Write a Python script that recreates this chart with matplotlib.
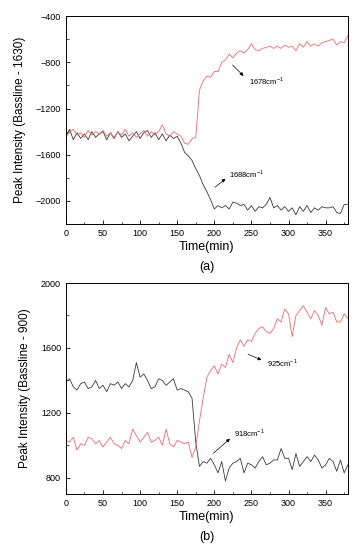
import numpy as np
import matplotlib
matplotlib.use("Agg")
import matplotlib.pyplot as plt
from matplotlib.ticker import MultipleLocator

plt.rcParams['font.family'] = ['Liberation Sans', 'DejaVu Sans']
plt.rcParams['mathtext.fontset'] = 'custom'
plt.rcParams['mathtext.rm'] = 'Liberation Sans'

# time axis, one reading every 5 min
t = np.arange(0, 381, 5)

# panel (a): baseline 1630
peak_1688 = [-1440, -1380, -1470, -1410, -1460, -1420, -1470, -1400, -1450, -1420,
             -1400, -1470, -1410, -1460, -1400, -1450, -1420, -1480, -1440, -1400,
             -1460, -1410, -1390, -1450, -1410, -1470, -1420, -1480, -1430, -1460,
             -1440, -1500, -1580, -1610, -1650, -1720, -1780, -1860, -1920, -1990,
             -2070, -2040, -2060, -2040, -2070, -2010, -2020, -2040, -2030, -2080,
             -2040, -2090, -2050, -2060, -2030, -1970, -2060, -2040, -2080, -2050,
             -2090, -2060, -2120, -2050, -2090, -2040, -2100, -2060, -2080, -2050,
             -2060, -2060, -2050, -2100, -2110, -2030, -2030]
peak_1678 = [-1450, -1400, -1380, -1430, -1410, -1450, -1390, -1430, -1400, -1420,
             -1390, -1440, -1410, -1450, -1400, -1430, -1380, -1440, -1410, -1450,
             -1420, -1390, -1440, -1400, -1430, -1400, -1340, -1420, -1440, -1400,
             -1420, -1440, -1500, -1510, -1460, -1450, -1040, -960, -920, -930,
             -880, -880, -800, -780, -730, -760, -720, -700, -720, -690,
             -640, -690, -700, -680, -670, -660, -680, -660, -680, -650,
             -670, -660, -700, -640, -670, -620, -660, -640, -660, -630,
             -620, -610, -600, -650, -620, -630, -570]

# panel (b): baseline 900
peak_918 = [1390, 1410, 1360, 1340, 1380, 1390, 1350, 1360, 1400, 1350,
            1370, 1330, 1380, 1370, 1390, 1350, 1380, 1360, 1400, 1510,
            1420, 1440, 1400, 1350, 1360, 1410, 1400, 1370, 1390, 1410,
            1340, 1350, 1340, 1330, 1290, 1020, 870, 900, 890, 920,
            880, 830, 900, 780, 860, 890, 900, 920, 830, 890,
            880, 860, 900, 930, 880, 890, 910, 910, 980, 920,
            920, 850, 950, 870, 900, 930, 900, 940, 910, 860,
            880, 920, 900, 840, 910, 830, 880]
peak_925 = [1030, 1020, 1050, 970, 1010, 1000, 1050, 1040, 1010, 1030,
            990, 1020, 1050, 1010, 1000, 980, 1030, 1010, 1100, 1060,
            1020, 1050, 1080, 1020, 1030, 1050, 1000, 1100, 1010, 990,
            1030, 1020, 1010, 1020, 925, 990, 1150, 1290, 1420, 1460,
            1490, 1440, 1500, 1480, 1560, 1510, 1600, 1650, 1610, 1650,
            1640, 1690, 1720, 1730, 1700, 1690, 1720, 1780, 1760, 1840,
            1810, 1670, 1800, 1830, 1860, 1820, 1780, 1830, 1800, 1740,
            1850, 1810, 1820, 1760, 1760, 1810, 1780]

red = '#f06a6a'
black = '#3a3a3a'

fig = plt.figure(figsize=(3.62, 5.5), dpi=100)
ax1 = fig.add_axes([0.182, 0.5927, 0.779, 0.378])
ax2 = fig.add_axes([0.182, 0.1018, 0.779, 0.3836])

def style(ax, ylab, ymaj):
    ax.set_xlim(0, 380)
    ax.xaxis.set_major_locator(MultipleLocator(50))
    ax.xaxis.set_minor_locator(MultipleLocator(25))
    ax.yaxis.set_major_locator(MultipleLocator(ymaj))
    ax.yaxis.set_minor_locator(MultipleLocator(ymaj / 2))
    ax.tick_params(direction='in', which='major', length=3, width=0.6, labelsize=6.5)
    ax.tick_params(direction='in', which='minor', length=1.8, width=0.5)
    for s in ax.spines.values():
        s.set_linewidth(0.7)
    ax.set_xlabel('Time(min)', fontsize=9, labelpad=2)
    ax.set_ylabel(ylab, fontsize=8.5, labelpad=7)

ax1.plot(t, peak_1688, color=black, lw=0.6)
ax1.plot(t, peak_1678, color=red, lw=0.6)
ax1.set_ylim(-2200, -400)
style(ax1, 'Peak Intensity (Bassline - 1630)', 400)

arr = dict(arrowstyle='-|>', color='black', lw=0.5, mutation_scale=5)
ax1.annotate('', xy=(242, -935), xytext=(222, -807), arrowprops=arr)
ax1.text(247, -962, '1678cm$^{-1}$', fontsize=5.5, va='center')
ax1.annotate('', xy=(218, -1793), xytext=(198, -1897), arrowprops=arr)
ax1.text(220, -1770, '1688cm$^{-1}$', fontsize=5.5, va='center')

ax2.plot(t, peak_918, color=black, lw=0.6)
ax2.plot(t, peak_925, color=red, lw=0.6)
ax2.set_ylim(700, 2000)
style(ax2, 'Peak Intensity (Bassline - 900)', 400)

ax2.annotate('', xy=(267, 1519), xytext=(242, 1568), arrowprops=arr)
ax2.text(271, 1507, '925cm$^{-1}$', fontsize=5.5, va='center')
ax2.annotate('', xy=(224, 1052), xytext=(196, 940), arrowprops=arr)
ax2.text(227, 1075, '918cm$^{-1}$', fontsize=5.5, va='center')

fig.text(0.571, 1 - 267 / 550, '(a)', ha='center', va='center', fontsize=9)
fig.text(0.571, 1 - 537 / 550, '(b)', ha='center', va='center', fontsize=9)

fig.savefig('out.png', dpi=100)
